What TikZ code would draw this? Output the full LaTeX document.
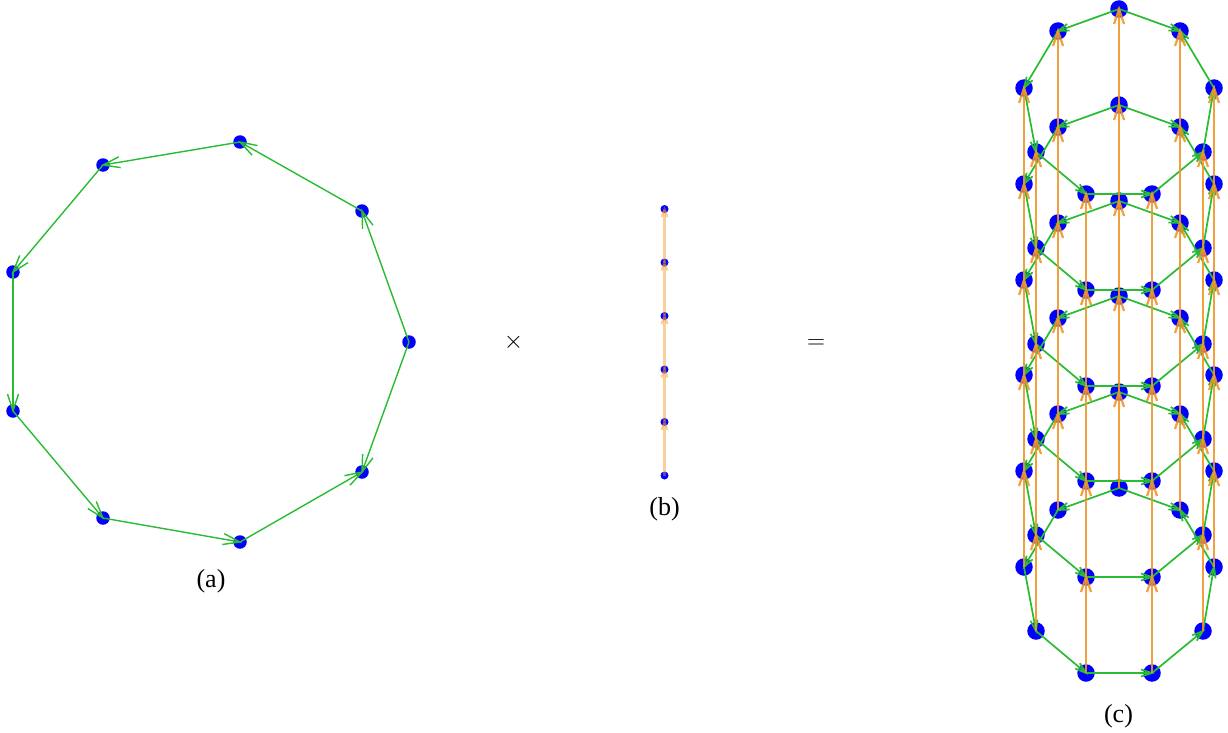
\documentclass[tikz,border=0pt]{standalone}
\usepackage{fontspec}
\setmainfont{Liberation Serif}
\usetikzlibrary{arrows.meta}
\definecolor{edgegreen}{RGB}{40,188,50}
\definecolor{edgeorange}{RGB}{240,150,40}
\pgfdeclarearrow{
  name=OpenVee,
  parameters={\the\pgfarrowlength,\the\pgfarrowwidth,\the\pgfarrowlinewidth},
  setup code={
    \pgfarrowssettipend{0pt}
    \pgfarrowssetlineend{-1pt}
    \pgfarrowssetbackend{-\pgfarrowlength}
    \pgfarrowssetvisualbackend{-\pgfarrowlength}
    \pgfarrowssavethe\pgfarrowlength
    \pgfarrowssavethe\pgfarrowwidth
  },
  drawing code={
    \pgfsetdash{}{0pt}
    \pgfsetbuttcap
    \pgfsetmiterjoin
    \pgfpathmoveto{\pgfqpoint{-\pgfarrowlength}{.5\pgfarrowwidth}}
    \pgfpathlineto{\pgfpointorigin}
    \pgfpathlineto{\pgfqpoint{-\pgfarrowlength}{-.5\pgfarrowwidth}}
    \pgfusepathqstroke
  },
  defaults={length=10pt,width=8pt}
}
\tikzset{
  x=1pt,y=-1pt,
  dota/.style={circle,fill=blue,inner sep=0pt,minimum size=13.5pt},
  dotb/.style={circle,fill=blue,inner sep=0pt,minimum size=8pt},
  dotc/.style={circle,fill=blue,inner sep=0pt,minimum size=17.5pt},
  greena/.style={draw=edgegreen,line width=1.4pt,-{OpenVee[length=17pt,width=11pt,line width=1.3pt]}},
  orangeb/.style={draw=edgeorange,draw opacity=.45,line width=2.1pt,-{OpenVee[length=8pt,width=6pt,line width=1pt]}},
  greenc/.style={draw=edgegreen,line width=1.7pt,-{OpenVee[length=11pt,width=7pt,line width=1.5pt]}},
  orangec/.style={draw=edgeorange,draw opacity=.9,line width=2.2pt,-{OpenVee[length=15pt,width=10pt,line width=1.7pt]}},
  lab/.style={inner sep=0pt,font=\fontsize{26}{30}\selectfont},
}
\begin{document}
\begin{tikzpicture}
\useasboundingbox (0,0) rectangle (1228,733);
% (a)
\foreach \i/\x/\y in {0/409/342,1/362/211,2/240/142,3/103/165,4/13/272,5/13/411,6/103/518,7/240/542,8/362/472}
  \node[dota] (a\i) at (\x,\y) {};
\foreach \s/\t in {0/1,1/2,2/3,3/4,4/5,5/6,6/7,7/8,0/8}
  \draw[greena] (a\s.center) -- (a\t.center);
% (b)
\foreach \i/\y in {0/475.5,1/422,2/369.5,3/316,4/262.5,5/209}
  \node[dotb] (b\i) at (664.5,\y) {};
\foreach \s/\t in {0/1,1/2,2/3,3/4,4/5}
  \draw[orangeb] (b\s.center) -- (b\t.center);
% (c) dots
\foreach \l in {0,...,5} {
  \foreach \i/\x/\y in {0/1119/488,1/1058/510,2/1024/567,3/1036/631,4/1086/673,5/1152/673,6/1203/631,7/1214/567,8/1180/510}
    \node[dotc] (c\l-\i) at (\x,{round(\y-95.8*\l)}) {};
}
% (c) green edges
\foreach \l in {0,...,5} {
  \foreach \s/\t in {0/1,1/2,2/3,3/4,4/5,5/6,6/7,7/8,0/8}
    \draw[greenc] (c\l-\s.center) -- (c\l-\t.center);
}
% (c) orange edges
\foreach \i in {0,...,8} {
  \foreach \l [evaluate=\l as \m using int(\l+1)] in {0,...,4}
    \draw[orangec] (c\l-\i.center) -- (c\m-\i.center);
}
% labels
\node[lab] (la) at (211,581) {(a)};
\node[lab] (lb) at (664.5,509) {(b)};
\node[lab] (lc) at (1118.5,716) {(c)};
\node[lab] (times) at (513.5,342) {$\times$};
\node[lab] (equals) at (816,344) {$=$};
\end{tikzpicture}
\end{document}
